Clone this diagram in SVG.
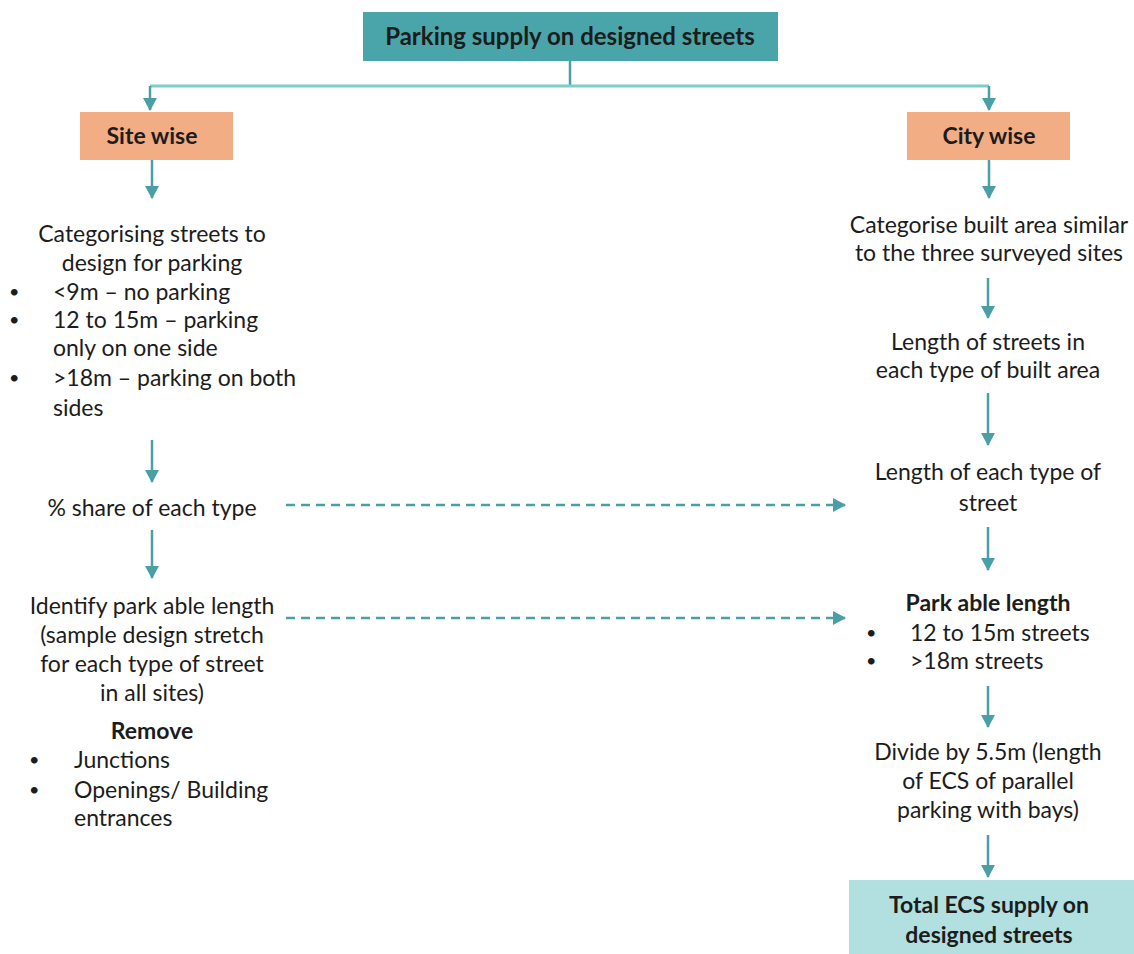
<svg xmlns="http://www.w3.org/2000/svg" width="1134" height="954" viewBox="0 0 1134 954">
<defs>
<marker id="ah" markerWidth="14" markerHeight="14" refX="12" refY="7" orient="auto" markerUnits="userSpaceOnUse">
<path d="M0,0 L13,7 L0,14 Z" fill="#4a9fa6"/>
</marker>
<style>
text{font-family:Lato,"Liberation Sans",sans-serif;font-size:23px;fill:#1c1c1c}
.c{text-anchor:middle}
.b{font-weight:bold}
.t{font-size:24px}
.d{font-size:18px}
.ln{stroke:#4a9fa6;stroke-width:2.5;fill:none}
.dash{stroke-dasharray:9,6}
</style>
</defs>
<rect width="1134" height="954" fill="#ffffff"/>
<g id="connectors">
<path class="ln" d="M570,61 V86" stroke="#5aa9ab"/>
<path d="M150,86 H989" stroke="#7fcdc6" stroke-width="3" fill="none"/>
<path class="ln" d="M150,86 V110" marker-end="url(#ah)"/>
<path class="ln" d="M989,86 V110" marker-end="url(#ah)"/>
<path class="ln" d="M152,160 V198" marker-end="url(#ah)"/>
<path class="ln" d="M152,440 V482" marker-end="url(#ah)"/>
<path class="ln" d="M152,530 V578" marker-end="url(#ah)"/>
<path class="ln dash" d="M286,505 H845" marker-end="url(#ah)"/>
<path class="ln dash" d="M286,618 H845" marker-end="url(#ah)"/>
<path class="ln" d="M989,160 V198" marker-end="url(#ah)"/>
<path class="ln" d="M988,278 V318" marker-end="url(#ah)"/>
<path class="ln" d="M988,393 V445" marker-end="url(#ah)"/>
<path class="ln" d="M988,527 V570" marker-end="url(#ah)"/>
<path class="ln" d="M988,686 V727" marker-end="url(#ah)"/>
<path class="ln" d="M988,835 V877" marker-end="url(#ah)"/>
</g>
<g id="top">
<rect x="363" y="12" width="415" height="49" fill="#49a5a9"/>
<text class="c b t" x="570" y="45">Parking supply on designed streets</text>
</g>
<g id="site-wise">
<rect x="80" y="112" width="153" height="48" fill="#f3ad84"/>
<text class="c b" x="152" y="144">Site wise</text>
</g>
<g id="city-wise">
<rect x="907" y="112" width="163" height="48" fill="#f3ad84"/>
<text class="c b" x="989" y="144">City wise</text>
</g>
<g id="categorising">
<text class="c" x="152" y="242">Categorising streets to</text>
<text class="c" x="152" y="271">design for parking</text>
<text class="d" x="9" y="298">•</text><text x="53" y="300">&lt;9m – no parking</text>
<text class="d" x="9" y="326">•</text><text x="53" y="328">12 to 15m – parking</text>
<text x="53" y="356">only on one side</text>
<text class="d" x="9" y="384">•</text><text x="53" y="386">&gt;18m – parking on both</text>
<text x="53" y="416">sides</text>
</g>
<g id="share">
<text class="c" x="152" y="516">% share of each type</text>
</g>
<g id="identify">
<text class="c" x="152" y="614">Identify park able length</text>
<text class="c" x="152" y="643">(sample design stretch</text>
<text class="c" x="152" y="672">for each type of street</text>
<text class="c" x="152" y="701">in all sites)</text>
<text class="c b" x="152" y="739">Remove</text>
<text class="d" x="29" y="766">•</text><text x="74" y="768">Junctions</text>
<text class="d" x="29" y="796">•</text><text x="74" y="798">Openings/ Building</text>
<text x="74" y="826">entrances</text>
</g>
<g id="categorise-built">
<text class="c" x="989" y="233">Categorise built area similar</text>
<text class="c" x="989" y="261">to the three surveyed sites</text>
</g>
<g id="length-streets">
<text class="c" x="988" y="350">Length of streets in</text>
<text class="c" x="988" y="378">each type of built area</text>
</g>
<g id="length-type">
<text class="c" x="988" y="480">Length of each type of</text>
<text class="c" x="988" y="511">street</text>
</g>
<g id="parkable">
<text class="c b" x="988" y="611">Park able length</text>
<text class="d" x="866" y="639">•</text><text x="910" y="641">12 to 15m streets</text>
<text class="d" x="866" y="667">•</text><text x="910" y="669">&gt;18m streets</text>
</g>
<g id="divide">
<text class="c" x="988" y="760">Divide by 5.5m (length</text>
<text class="c" x="988" y="789">of ECS of parallel</text>
<text class="c" x="988" y="818">parking with bays)</text>
</g>
<g id="total">
<rect x="849" y="880" width="285" height="74" fill="#b2e0e0"/>
<text class="c b" x="989" y="913">Total ECS supply on</text>
<text class="c b" x="989" y="943">designed streets</text>
</g>
</svg>
